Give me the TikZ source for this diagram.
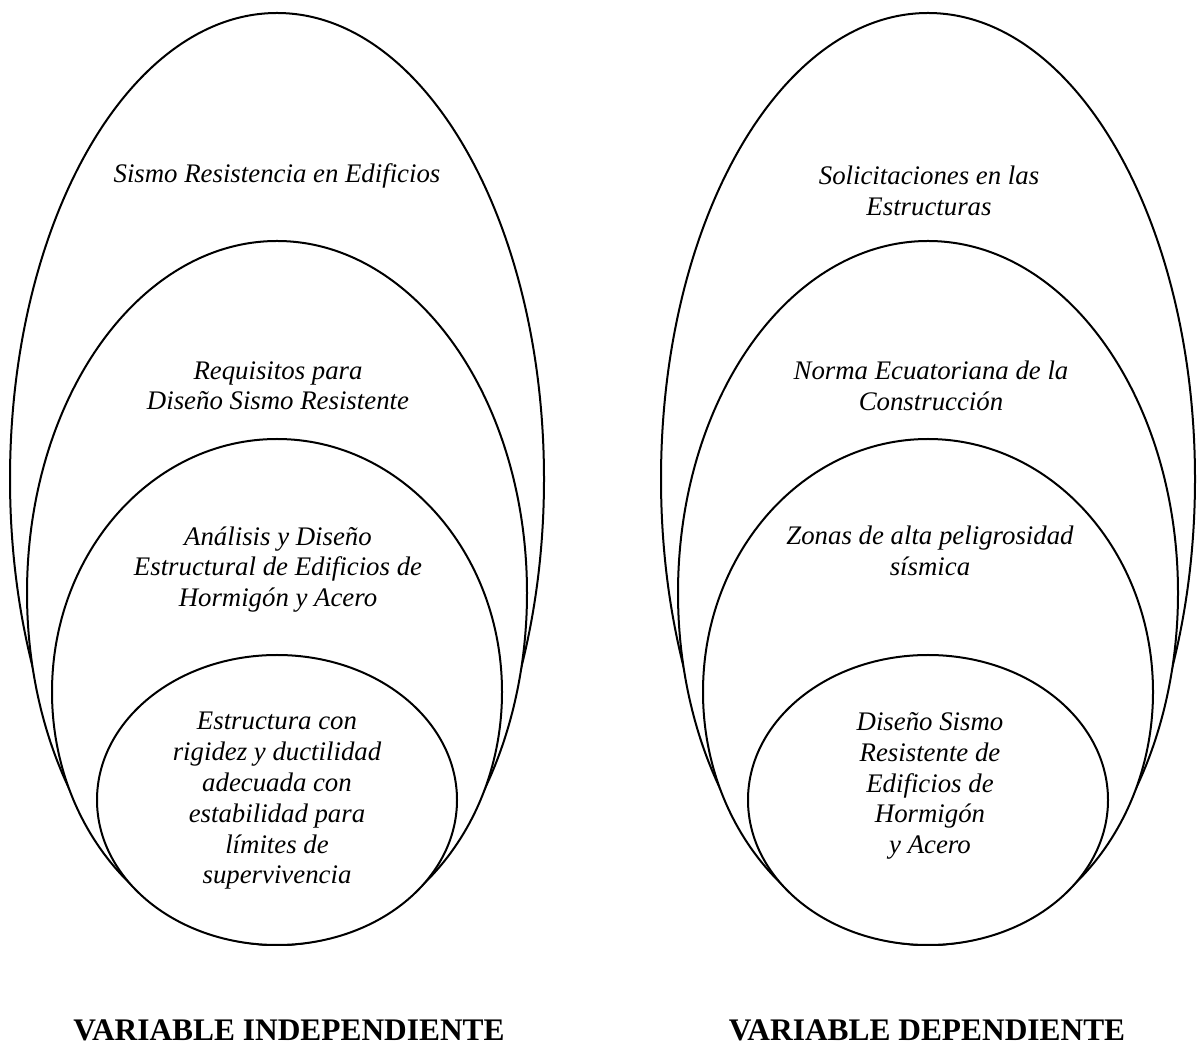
\documentclass[tikz,border=0pt]{standalone}
\usepackage{fontspec}
\setmainfont{Liberation Serif}
\begin{document}
\begin{tikzpicture}[x=0.5pt,y=-0.5pt,
  ring/.style={draw=black,line width=1pt,fill=white},
  txt/.style={font=\fontsize{13.4}{15.4}\selectfont\itshape,align=center,anchor=north,inner sep=0pt,execute at begin node={\rule{0pt}{13pt}}},
  varlabel/.style={font=\fontsize{15.7}{18}\selectfont\bfseries,anchor=base,inner sep=0pt}]
\useasboundingbox (0,0) rectangle (1200,1052);
% variable independiente
\draw[ring] (277,479) ellipse [x radius=267,y radius=466];
\draw[ring] (277,593) ellipse [x radius=250,y radius=352];
\draw[ring] (277,692) ellipse [x radius=225,y radius=253];
\draw[ring] (277,800) ellipse [x radius=180,y radius=145];
\node[txt] (sismo) at (277,156) {Sismo Resistencia en Edificios};
\node[txt] (requisitos) at (278,361) {Requisitos para\\Diseño Sismo Resistente};
\node[txt] (analisis) at (278,526) {Análisis y Diseño\\Estructural de Edificios de\\Hormigón y Acero};
\node[txt] (estructura) at (277,712) {Estructura con\\rigidez y ductilidad\\adecuada con\\estabilidad para\\límites de\\supervivencia};
% variable dependiente
\draw[ring] (928,479) ellipse [x radius=267,y radius=466];
\draw[ring] (928,593) ellipse [x radius=250,y radius=352];
\draw[ring] (928,692) ellipse [x radius=225,y radius=253];
\draw[ring] (928,800) ellipse [x radius=180,y radius=145];
\node[txt] (solicitaciones) at (929,166) {Solicitaciones en las\\Estructuras};
\node[txt] (norma) at (931,361) {Norma Ecuatoriana de la\\Construcción};
\node[txt] (zonas) at (930,526) {Zonas de alta peligrosidad\\sísmica};
\node[txt] (diseno) at (930,712) {Diseño Sismo\\Resistente de\\Edificios de\\Hormigón\\y Acero};
% etiquetas
\node[varlabel] (indep) at (289,1040) {VARIABLE INDEPENDIENTE};
\node[varlabel] (dep) at (927,1040) {VARIABLE DEPENDIENTE};
\end{tikzpicture}
\end{document}
